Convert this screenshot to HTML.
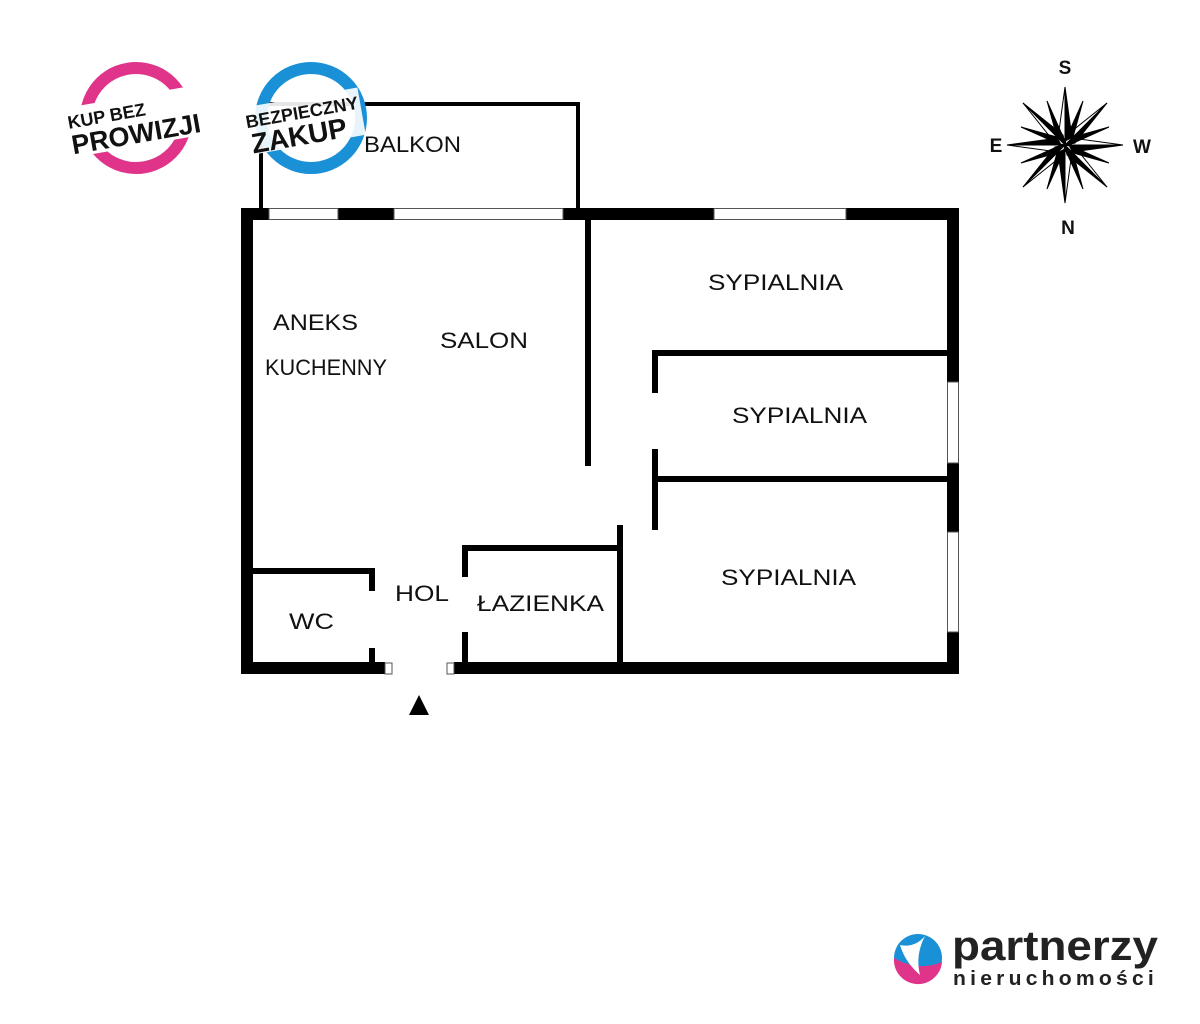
<!DOCTYPE html>
<html><head><meta charset="utf-8"><style>
html,body{margin:0;padding:0;background:#fff;}
svg{display:block}
text{font-family:"Liberation Sans",sans-serif;}
</style></head><body>
<svg width="1200" height="1024" viewBox="0 0 1200 1024" xmlns="http://www.w3.org/2000/svg">
<rect width="1200" height="1024" fill="#fff"/>
<g fill="#000">
<rect x="259" y="102" width="4" height="106"/>
<rect x="259" y="102" width="321" height="4"/>
<rect x="576" y="102" width="4" height="106"/>
</g>
<g fill="#000">
<rect x="241" y="208" width="12" height="466"/>
<rect x="241" y="208" width="28" height="12"/>
<rect x="338" y="208" width="56" height="12"/>
<rect x="563" y="208" width="151" height="12"/>
<rect x="846" y="208" width="113" height="12"/>
<rect x="947" y="208" width="12" height="174"/>
<rect x="947" y="463" width="12" height="69"/>
<rect x="947" y="632" width="12" height="42"/>
<rect x="241" y="662" width="144" height="12"/>
<rect x="454" y="662" width="505" height="12"/>
<rect x="585" y="220" width="6" height="246"/>
<rect x="652" y="350" width="295" height="6"/>
<rect x="652" y="350" width="6" height="43"/>
<rect x="652" y="449" width="6" height="81"/>
<rect x="652" y="476" width="295" height="6"/>
<rect x="617" y="525" width="6" height="137"/>
<rect x="462" y="545" width="155" height="6"/>
<rect x="462" y="545" width="6" height="32"/>
<rect x="462" y="632" width="6" height="30"/>
<rect x="253" y="568" width="122" height="6"/>
<rect x="369" y="568" width="6" height="23"/>
<rect x="369" y="648" width="6" height="14"/>
</g>
<g fill="#fff" stroke="#555" stroke-width="1">
<rect x="269" y="208.5" width="69" height="11"/>
<rect x="394" y="208.5" width="169" height="11"/>
<rect x="714" y="208.5" width="132" height="11"/>
<rect x="947.5" y="382" width="11" height="81"/>
<rect x="947.5" y="532" width="11" height="100"/>
<rect x="385" y="663" width="7" height="11"/>
<rect x="447" y="663" width="7" height="11"/>
</g>
<polygon points="419,695 409,715 429,715" fill="#000"/>
<g font-size="22" fill="#111" lengthAdjust="spacingAndGlyphs">
<text x="364" y="152" textLength="97" lengthAdjust="spacingAndGlyphs">BALKON</text>
<text x="273" y="330" textLength="85" lengthAdjust="spacingAndGlyphs">ANEKS</text>
<text x="265" y="375" textLength="122" lengthAdjust="spacingAndGlyphs">KUCHENNY</text>
<text x="440" y="348" textLength="88" lengthAdjust="spacingAndGlyphs">SALON</text>
<text x="708" y="290" textLength="135" lengthAdjust="spacingAndGlyphs">SYPIALNIA</text>
<text x="732" y="423" textLength="135" lengthAdjust="spacingAndGlyphs">SYPIALNIA</text>
<text x="721" y="585" textLength="135" lengthAdjust="spacingAndGlyphs">SYPIALNIA</text>
<text x="395" y="601" textLength="54" lengthAdjust="spacingAndGlyphs">HOL</text>
<text x="477" y="611" textLength="127" lengthAdjust="spacingAndGlyphs">ŁAZIENKA</text>
<text x="289" y="629" textLength="45" lengthAdjust="spacingAndGlyphs">WC</text>
</g>
<circle cx="136" cy="118" r="50" fill="none" stroke="#e0338a" stroke-width="12"/>
<g transform="rotate(-10 136 118)">
<rect x="60" y="96" width="160" height="50" fill="#fff"/>
<text x="68" y="117" font-size="18" font-weight="bold" fill="#111">KUP BEZ</text>
<text x="68" y="143" font-size="27" font-weight="bold" fill="#111">PROWIZJI</text>
</g>
<circle cx="311" cy="118" r="50" fill="none" stroke="#1a90d6" stroke-width="12"/>
<g transform="rotate(-10 311 118)">
<rect x="244" y="96" width="118" height="48" fill="#fff" opacity="0.9"/>
<text x="246" y="117" font-size="18" font-weight="bold" fill="#111">BEZPIECZNY</text>
<text x="248" y="143" font-size="28" font-weight="bold" fill="#111">ZAKUP</text>
</g>
<g transform="translate(1065,145)">
<g fill="#000" stroke="#000" stroke-width="1">
<polygon points="0,-58 7,-7 0,0"/><polygon points="0,-58 -7,-7 0,0" fill="#fff"/>
<polygon points="0,58 -7,7 0,0"/><polygon points="0,58 7,7 0,0" fill="#fff"/>
<polygon points="-58,0 -7,-7 0,0"/><polygon points="-58,0 -7,7 0,0" fill="#fff"/>
<polygon points="58,0 7,7 0,0"/><polygon points="58,0 7,-7 0,0" fill="#fff"/>
<polygon points="-42,-42 -2,-10 0,0"/><polygon points="-42,-42 -10,-2 0,0" fill="#fff"/>
<polygon points="42,-42 10,-2 0,0"/><polygon points="42,-42 2,-10 0,0" fill="#fff"/>
<polygon points="42,42 2,10 0,0"/><polygon points="42,42 10,2 0,0" fill="#fff"/>
<polygon points="-42,42 -10,2 0,0"/><polygon points="-42,42 -2,10 0,0" fill="#fff"/>
<polygon points="-18,-44 0,-4 -8,-8"/><polygon points="18,-44 0,-4 8,-8"/>
<polygon points="-18,44 0,4 -8,8"/><polygon points="18,44 0,4 8,8"/>
<polygon points="-44,-18 -4,0 -8,-8"/><polygon points="-44,18 -4,0 -8,8"/>
<polygon points="44,-18 4,0 8,-8"/><polygon points="44,18 4,0 8,8"/>
</g>
</g>
<g font-size="19" font-weight="bold" fill="#111" text-anchor="middle">
<text x="1065" y="74">S</text>
<text x="1068" y="234">N</text>
<text x="996" y="152">E</text>
<text x="1142" y="153">W</text>
</g>
<circle cx="918" cy="958" r="24" fill="#1a90d6"/>
<path d="M894,958 Q918,972 942,962 A24,24 0 0 1 894,958 Z" fill="#e0338a"/>
<path d="M900,945 Q915,948 925,936 Q915,955 920,975 Q905,962 900,945 Z" fill="#fff"/>
<text x="952" y="960" font-size="42" font-weight="bold" fill="#222" textLength="206" lengthAdjust="spacingAndGlyphs">partnerzy</text>
<text x="953" y="985" font-size="20" font-weight="bold" fill="#222" letter-spacing="4" textLength="205" lengthAdjust="spacingAndGlyphs">nieruchomości</text>
</svg>
</body></html>
